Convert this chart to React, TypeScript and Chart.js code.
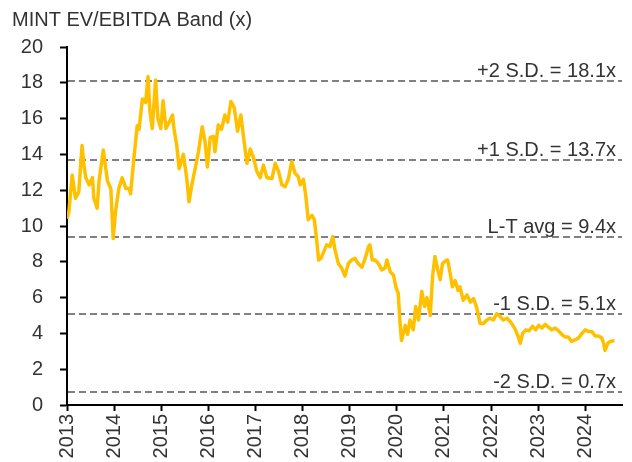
import React, { useEffect, useRef } from "react";
import { Chart, registerables } from "chart.js";

Chart.register(...registerables);

const chartTitle = "MINT EV/EBITDA Band (x)";

// decimal-year dates of readings
const dates = [
  2013.0, 2013.04, 2013.11, 2013.18, 2013.25, 2013.32, 2013.36, 2013.4, 2013.47, 2013.54,
  2013.57, 2013.64, 2013.68, 2013.77, 2013.86, 2013.93, 2013.98, 2014.03, 2014.1, 2014.17,
  2014.25, 2014.32, 2014.35, 2014.42, 2014.49, 2014.53, 2014.6, 2014.67, 2014.72, 2014.76,
  2014.81, 2014.88, 2014.93, 2014.99, 2015.04, 2015.1, 2015.17, 2015.24, 2015.27, 2015.33,
  2015.38, 2015.47, 2015.54, 2015.59, 2015.65, 2015.72, 2015.79, 2015.87, 2015.93, 2015.98,
  2016.04, 2016.11, 2016.14, 2016.21, 2016.28, 2016.35, 2016.41, 2016.48, 2016.55, 2016.62,
  2016.69, 2016.76, 2016.82, 2016.89, 2016.96, 2017.03, 2017.1, 2017.17, 2017.24, 2017.35,
  2017.42, 2017.49, 2017.56, 2017.63, 2017.7, 2017.77, 2017.84, 2017.91, 2017.95, 2018.02,
  2018.07, 2018.12, 2018.2, 2018.25, 2018.3, 2018.34, 2018.39, 2018.44, 2018.51, 2018.58,
  2018.64, 2018.69, 2018.76, 2018.83, 2018.9, 2018.97, 2019.04, 2019.11, 2019.18, 2019.26,
  2019.33, 2019.4, 2019.43, 2019.48, 2019.54, 2019.61, 2019.68, 2019.75, 2019.79, 2019.86,
  2019.93, 2019.98, 2020.03, 2020.07, 2020.1, 2020.18, 2020.23, 2020.28, 2020.35, 2020.4,
  2020.46, 2020.53, 2020.59, 2020.64, 2020.71, 2020.76, 2020.81, 2020.87, 2020.92, 2020.97,
  2021.03, 2021.08, 2021.13, 2021.18, 2021.24, 2021.3, 2021.34, 2021.41, 2021.49, 2021.56,
  2021.63, 2021.7, 2021.77, 2021.84, 2021.91, 2021.98, 2022.05, 2022.12, 2022.19, 2022.26,
  2022.34, 2022.41, 2022.44, 2022.51, 2022.58, 2022.62, 2022.67, 2022.74, 2022.81, 2022.88,
  2022.95, 2023.01, 2023.08, 2023.15, 2023.22, 2023.29, 2023.36, 2023.43, 2023.5, 2023.57,
  2023.64, 2023.71, 2023.79, 2023.86, 2023.93, 2024.0, 2024.07, 2024.14, 2024.21, 2024.28,
  2024.35, 2024.39, 2024.42, 2024.48, 2024.53, 2024.62,
];

// EV/EBITDA multiple (x)
const evEbitda = [
  10.4, 10.8, 12.85, 11.55, 11.9, 14.5, 13.4, 12.7, 12.3, 12.7,
  11.55, 11.0, 12.5, 14.25, 12.5, 12.1, 9.3, 10.8, 12.1, 12.7,
  12.1, 12.1, 11.8, 13.8, 15.6, 15.4, 17.1, 16.9, 18.35, 16.4,
  15.45, 18.15, 16.0, 15.45, 17.0, 15.45, 15.8, 16.2, 15.45, 14.5,
  13.2, 14.0, 12.7, 11.35, 12.3, 13.2, 14.15, 15.55, 14.7, 13.3,
  14.95, 15.0, 14.15, 15.65, 15.4, 16.2, 15.8, 16.95, 16.6, 15.3,
  16.2, 14.7, 13.5, 14.3, 13.8, 13.05, 12.7, 13.4, 12.7, 12.65,
  13.5, 13.05, 12.3, 12.2, 12.65, 13.6, 12.95, 12.75, 12.3, 12.6,
  11.65, 10.35, 10.6, 10.35, 9.2, 8.1, 8.2, 8.5, 8.95, 8.85,
  9.4, 8.65, 7.9, 7.65, 7.2, 7.9, 8.1, 8.2, 7.9, 7.7,
  8.2, 8.85, 8.95, 8.1, 8.1, 7.9, 7.55, 7.65, 8.1, 7.45,
  7.25, 6.6, 6.25, 4.55, 3.6, 4.45, 3.95, 4.75, 4.2, 5.5,
  4.75, 6.35, 5.5, 6.0, 5.0, 7.2, 8.3, 7.55, 7.0, 7.9,
  8.05, 8.1, 7.4, 6.6, 6.95, 6.4, 6.6, 5.85, 6.15, 5.75,
  5.95, 5.4, 4.55, 4.55, 4.75, 4.85, 4.75, 5.1, 4.95, 4.75,
  4.85, 4.65, 4.55, 4.25, 3.8, 3.45, 4.0, 4.2, 4.15, 4.4,
  4.2, 4.45, 4.3, 4.5, 4.35, 4.2, 4.3, 4.15, 3.95, 3.8,
  3.8, 3.55, 3.65, 3.75, 4.0, 4.2, 4.1, 4.1, 3.85, 3.85,
  3.75, 3.45, 3.05, 3.45, 3.55, 3.6,
];

const yearTicks = [2013, 2014, 2015, 2016, 2017, 2018, 2019, 2020, 2021, 2022, 2023, 2024];
const xMin = 2013;
const xMax = 2024.78;
const yMin = 0;
const yMax = 20;
const yStep = 2;

const bandValues = [18.1, 13.7, 9.4, 5.1, 0.7];
const bandLabels = [
  "+2 S.D. = 18.1x",
  "+1 S.D. = 13.7x",
  "L-T avg = 9.4x",
  "-1 S.D. = 5.1x",
  "-2 S.D. = 0.7x",
];

const FONT = '"Liberation Sans", Arial, sans-serif';
const TEXT = "#333333";

const bandPlugin = {
  id: "bands",
  beforeDatasetsDraw(chart: any) {
    const { ctx, chartArea, scales } = chart;
    const y = scales.y;
    ctx.save();
    ctx.strokeStyle = "#808080";
    ctx.lineWidth = 2;
    ctx.setLineDash([7, 4]);
    bandValues.forEach((v) => {
      const py = Math.round(y.getPixelForValue(v));
      ctx.beginPath();
      ctx.moveTo(chartArea.left + 1, py);
      ctx.lineTo(chartArea.right, py);
      ctx.stroke();
    });
    ctx.restore();
  },
  afterDatasetsDraw(chart: any) {
    const { ctx, chartArea, scales } = chart;
    const y = scales.y;
    ctx.save();
    ctx.fillStyle = TEXT;
    ctx.font = `20px ${FONT}`;
    ctx.textAlign = "right";
    ctx.textBaseline = "alphabetic";
    bandValues.forEach((v, i) => {
      const py = y.getPixelForValue(v);
      ctx.fillText(bandLabels[i], chartArea.right - 6, py - 4);
    });
    ctx.restore();
  },
  afterDraw(chart: any) {
    const { ctx } = chart;
    ctx.save();
    ctx.fillStyle = TEXT;
    ctx.font = `20px ${FONT}`;
    ctx.textAlign = "left";
    ctx.textBaseline = "alphabetic";
    ctx.fillText(chartTitle, 12, 26);
    ctx.restore();
  },
};

export default function App() {
  const canvasRef = useRef<HTMLCanvasElement | null>(null);

  useEffect(() => {
    document.body.style.margin = "0";
    const canvas = canvasRef.current;
    if (!canvas) return;
    const chart = new Chart(canvas, {
      type: "line",
      data: {
        datasets: [
          {
            label: "EV/EBITDA",
            data: dates.map((d, i) => ({ x: d, y: evEbitda[i] })),
            borderColor: "#FFC000",
            borderWidth: 3.5,
            borderJoinStyle: "round",
            pointRadius: 0,
            tension: 0,
            fill: false,
          },
        ],
      },
      options: {
        responsive: false,
        animation: false,
        devicePixelRatio: 1,
        layout: { padding: { top: 47, right: 10, bottom: 0, left: 0 } },
        plugins: {
          legend: { display: false },
          title: { display: false },
          tooltip: { enabled: false },
        },
        scales: {
          x: {
            type: "linear",
            min: xMin,
            max: xMax,
            afterBuildTicks: (scale: any) => {
              scale.ticks = yearTicks.map((v) => ({ value: v }));
            },
            afterFit: (scale: any) => {
              scale.height = 57;
            },
            grid: {
              drawOnChartArea: false,
              drawTicks: true,
              tickLength: 6,
              tickWidth: 2,
              color: "#000000",
            },
            border: { display: true, color: "#000000", width: 2 },
            ticks: {
              minRotation: 90,
              maxRotation: 90,
              autoSkip: false,
              padding: 3,
              color: TEXT,
              font: { family: FONT, size: 20 },
              callback: (v: any) => String(v),
            },
          },
          y: {
            type: "linear",
            min: yMin,
            max: yMax,
            afterFit: (scale: any) => {
              scale.width = 67;
            },
            grid: {
              drawOnChartArea: false,
              drawTicks: true,
              tickLength: 7,
              tickWidth: 2,
              color: "#000000",
            },
            border: { display: true, color: "#000000", width: 2 },
            ticks: {
              stepSize: yStep,
              padding: 17,
              color: TEXT,
              font: { family: FONT, size: 20 },
            },
          },
        },
      },
      plugins: [bandPlugin],
    });
    return () => chart.destroy();
  }, []);

  return (
    <div style={{ width: 632, height: 462 }}>
      <canvas ref={canvasRef} width={632} height={462} style={{ display: "block" }} />
    </div>
  );
}
